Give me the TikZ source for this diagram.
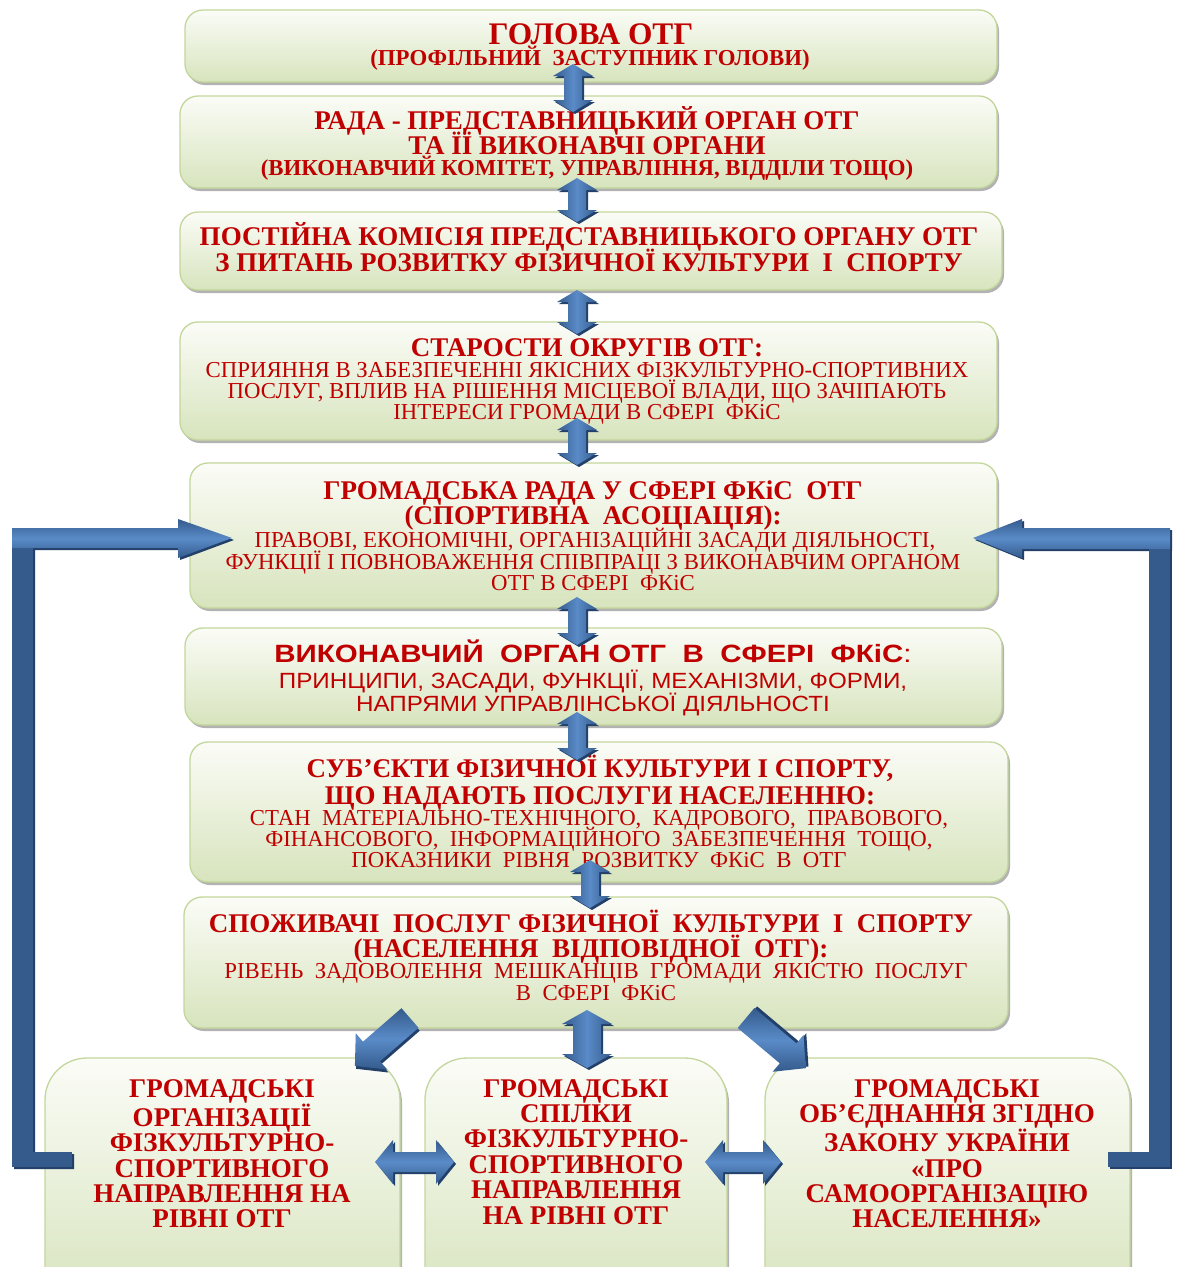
\documentclass[tikz,border=0pt]{standalone}
\usepackage{graphicx}
\usepackage{fontspec}
\setmainfont{Liberation Serif}
\newfontfamily\sansf{Liberation Sans}
\usetikzlibrary{shadows,calc}
\definecolor{tred}{HTML}{C00000}
\definecolor{boxtop}{HTML}{FBFCF7}
\definecolor{boxbot}{HTML}{D7E4BD}
\definecolor{boxline}{HTML}{C3D69B}
\definecolor{alight}{HTML}{5A8BC8}
\definecolor{adark}{HTML}{345B8C}
\definecolor{ashadow}{HTML}{22406A}
\newcommand\fsz[1]{\fontsize{#1}{#1}\selectfont}
\newcommand\vdarr[3]{%
  \fill[ashadow] ($(#1-20,#2+12)+(2,2)$) -- ($(#1,#2)+(2,2)$) -- ($(#1+20,#2+12)+(2,2)$) -- ($(#1+9,#2+12)+(2,2)$) -- ($(#1+9,#3-12)+(2,2)$) -- ($(#1+20,#3-12)+(2,2)$) -- ($(#1,#3)+(2,2)$) -- ($(#1-20,#3-12)+(2,2)$) -- ($(#1-9,#3-12)+(2,2)$) -- ($(#1-9,#2+12)+(2,2)$) -- cycle;
  \path[varrow] (#1-20,#2+12) -- (#1,#2) -- (#1+20,#2+12) -- (#1+9,#2+12) -- (#1+9,#3-12) -- (#1+20,#3-12) -- (#1,#3) -- (#1-20,#3-12) -- (#1-9,#3-12) -- (#1-9,#2+12) -- cycle;}
\newcommand\hdarr[3]{%
  \fill[ashadow] ($(#1+18,#3-22)+(2,2)$) -- ($(#1,#3)+(2,2)$) -- ($(#1+18,#3+22)+(2,2)$) -- ($(#1+18,#3+10)+(2,2)$) -- ($(#2-18,#3+10)+(2,2)$) -- ($(#2-18,#3+22)+(2,2)$) -- ($(#2,#3)+(2,2)$) -- ($(#2-18,#3-22)+(2,2)$) -- ($(#2-18,#3-10)+(2,2)$) -- ($(#1+18,#3-10)+(2,2)$) -- cycle;
  \path[harrow] (#1+18,#3-22) -- (#1,#3) -- (#1+18,#3+22) -- (#1+18,#3+10) -- (#2-18,#3+10) -- (#2-18,#3+22) -- (#2,#3) -- (#2-18,#3-22) -- (#2-18,#3-10) -- (#1+18,#3-10) -- cycle;}
\begin{document}
\begin{tikzpicture}[x=1pt,y=-1pt,
  box/.style={draw=boxline, line width=1.3pt, rounded corners=18pt, top color=boxtop, bottom color=boxbot, inner sep=0pt,
    drop shadow={shadow xshift=2pt, shadow yshift=-3pt, fill=black, opacity=0.3}},
  bbox/.style={box, rounded corners=42pt},
  tl/.style={text=tred, anchor=base, inner sep=0pt},
  tt/.style={tl, font=\bfseries\fsz{27}},
  ts/.style={tl, font=\fsz{22.8}},
  tsb/.style={tl, font=\bfseries\fsz{22.8}},
  tbot/.style={tl, font=\bfseries\fontsize{27}{25.4}\selectfont, align=center, anchor=north},
  varrow/.style={left color=adark, right color=adark, middle color=alight},
  harrow/.style={top color=adark, bottom color=adark, middle color=alight},
  fbar/.style={fill=adark}
]
\useasboundingbox (0,0) rectangle (1176,1267);
\fill[white] (0,0) rectangle (1176,1267);
\clip (0,0) rectangle (1176,1267);

% boxes
\node[box, minimum width=812, minimum height=72] (b1) at (591,46) {};
\node[box, minimum width=817, minimum height=92] (b2) at (588.5,142) {};
\node[box, minimum width=822, minimum height=78] (b3) at (591,251) {};
\node[box, minimum width=817, minimum height=118] (b4) at (588.5,381) {};
\node[box, minimum width=807, minimum height=145] (b5) at (593.5,535.5) {};
\node[box, minimum width=817, minimum height=97] (b6) at (593.5,676.5) {};
\node[box, minimum width=818, minimum height=140] (b7) at (599,812) {};
\node[box, minimum width=824, minimum height=131] (b8) at (596,962.5) {};
\node[bbox, minimum width=355, minimum height=250] (b9) at (222.5,1183) {};
\node[bbox, minimum width=302, minimum height=250] (b10) at (576,1183) {};
\node[bbox, minimum width=365, minimum height=250] (b11) at (947.5,1183) {};

% texts
\node[tl, font=\bfseries\fsz{31.4}] (t1a) at (591,44) {ГОЛОВА ОТГ};
\node[tsb] (t1b) at (590,65.5) {(ПРОФІЛЬНИЙ\ \ ЗАСТУПНИК ГОЛОВИ)};

\node[tt] (t2a) at (587,129) {РАДА - ПРЕДСТАВНИЦЬКИЙ ОРГАН ОТГ};
\node[tt] (t2b) at (587,154) {ТА ЇЇ ВИКОНАВЧІ ОРГАНИ};
\node[tsb] (t2c) at (587,175.5) {(ВИКОНАВЧИЙ КОМІТЕТ, УПРАВЛІННЯ, ВІДДІЛИ ТОЩО)};

\node[tt] (t3a) at (589,245) {ПОСТІЙНА КОМІСІЯ ПРЕДСТАВНИЦЬКОГО ОРГАНУ ОТГ};
\node[tt] (t3b) at (589,271) {З ПИТАНЬ РОЗВИТКУ ФІЗИЧНОЇ КУЛЬТУРИ\ \ І\ \ СПОРТУ};

\node[tt] (t4a) at (587,356) {СТАРОСТИ ОКРУГІВ ОТГ:};
\node[ts] (t4b) at (587,377.5) {СПРИЯННЯ В ЗАБЕЗПЕЧЕННІ ЯКІСНИХ ФІЗКУЛЬТУРНО-СПОРТИВНИХ};
\node[ts] (t4c) at (587,398.5) {ПОСЛУГ, ВПЛИВ НА РІШЕННЯ МІСЦЕВОЇ ВЛАДИ, ЩО ЗАЧІПАЮТЬ};
\node[ts] (t4d) at (587,419.5) {ІНТЕРЕСИ ГРОМАДИ В СФЕРІ\ \ ФКіС};

\node[tt] (t5a) at (593,499) {ГРОМАДСЬКА РАДА У СФЕРІ ФКіС\ \ ОТГ};
\node[tt] (t5b) at (593,524) {(СПОРТИВНА\ \ АСОЦІАЦІЯ):};
\node[ts] (t5c) at (595,547.5) {ПРАВОВІ, ЕКОНОМІЧНІ, ОРГАНІЗАЦІЙНІ ЗАСАДИ ДІЯЛЬНОСТІ,};
\node[ts] (t5d) at (593,569.5) {ФУНКЦІЇ І ПОВНОВАЖЕННЯ СПІВПРАЦІ З ВИКОНАВЧИМ ОРГАНОМ};
\node[ts] (t5e) at (593,590.5) {ОТГ В СФЕРІ\ \ ФКіС};

\node[tl] (t6a) at (593,662) {\scalebox{1.18}[1]{\sansf\bfseries\fsz{25}ВИКОНАВЧИЙ\ \ ОРГАН ОТГ\ \ В\ \ СФЕРІ\ \ ФКіС\mdseries:}};
\node[tl] (t6b) at (593,688) {\scalebox{1.1}[1]{\sansf\fsz{22}ПРИНЦИПИ,\ ЗАСАДИ,\ ФУНКЦІЇ,\ МЕХАНІЗМИ,\ ФОРМИ,}};
\node[tl] (t6c) at (593,711) {\scalebox{1.1}[1]{\sansf\fsz{22}НАПРЯМИ УПРАВЛІНСЬКОЇ ДІЯЛЬНОСТІ}};

\node[tt] (t7a) at (600,777) {СУБ’ЄКТИ ФІЗИЧНОЇ КУЛЬТУРИ І СПОРТУ,};
\node[tt] (t7b) at (600,804) {ЩО НАДАЮТЬ ПОСЛУГИ НАСЕЛЕННЮ:};
\node[ts] (t7c) at (599,825.5) {СТАН\ \ МАТЕРІАЛЬНО-ТЕХНІЧНОГО,\ \ КАДРОВОГО,\ \ ПРАВОВОГО,};
\node[ts] (t7d) at (599,846.5) {ФІНАНСОВОГО,\ \ ІНФОРМАЦІЙНОГО\ \ ЗАБЕЗПЕЧЕННЯ\ \ ТОЩО,};
\node[ts] (t7e) at (599,867.5) {ПОКАЗНИКИ\ \ РІВНЯ\ \ РОЗВИТКУ\ \ ФКіС\ \ В\ \ ОТГ};

\node[tt] (t8a) at (591,932) {СПОЖИВАЧІ\ \ ПОСЛУГ ФІЗИЧНОЇ\ \ КУЛЬТУРИ\ \ І\ \ СПОРТУ};
\node[tt] (t8b) at (591,957) {(НАСЕЛЕННЯ\ \ ВІДПОВІДНОЇ\ \ ОТГ):};
\node[ts] (t8c) at (596,978.5) {РІВЕНЬ\ \ ЗАДОВОЛЕННЯ\ \ МЕШКАНЦІВ\ \ ГРОМАДИ\ \ ЯКІСТЮ\ \ ПОСЛУГ};
\node[ts] (t8d) at (596,1000.5) {В\ \ СФЕРІ\ \ ФКіС};

\node[tbot] (t9) at (222,1079)
  {ГРОМАДСЬКІ\\ОРГАНІЗАЦІЇ\\ФІЗКУЛЬТУРНО-\\СПОРТИВНОГО\\НАПРАВЛЕННЯ НА\\РІВНІ ОТГ};
\node[tbot] (t10) at (576,1079)
  {ГРОМАДСЬКІ\\СПІЛКИ\\ФІЗКУЛЬТУРНО-\\СПОРТИВНОГО\\НАПРАВЛЕННЯ\\НА РІВНІ ОТГ};
\node[tbot] (t11) at (947,1079)
  {ГРОМАДСЬКІ\\ОБ’ЄДНАННЯ ЗГІДНО\\ЗАКОНУ УКРАЇНИ\\«ПРО\\САМООРГАНІЗАЦІЮ\\НАСЕЛЕННЯ»};

% vertical double arrows between boxes
\vdarr{573}{64}{112}
\vdarr{577}{178}{222}
\vdarr{577}{290}{334}
\vdarr{577}{418}{465}
\vdarr{577}{597}{645}
\vdarr{577}{712}{760}
\vdarr{590}{860}{908}
% bottom middle (larger)
\fill[ashadow] (562+2,1024+2) -- (587+2,1010+2) -- (612+2,1024+2) -- (601+2,1024+2) -- (601+2,1054+2) -- (612+2,1054+2) -- (587+2,1068+2) -- (562+2,1054+2) -- (573+2,1054+2) -- (573+2,1024+2) -- cycle;
\path[varrow] (562,1024) -- (587,1010) -- (612,1024) -- (601,1024) -- (601,1054) -- (612,1054) -- (587,1068) -- (562,1054) -- (573,1054) -- (573,1024) -- cycle;

% horizontal double arrows between bottom boxes
\hdarr{375}{454}{1162}
\hdarr{705}{781}{1162}

% diagonal single arrows
\begin{scope}[shift={(410,1018)}, rotate=221]
  \fill[ashadow, shift={(1,-3)}] (0,-13) -- (51,-13) -- (51,-24) -- (73,0) -- (51,24) -- (51,13) -- (0,13) -- cycle;
  \path[top color=adark, bottom color=adark, middle color=alight] (0,-13) -- (51,-13) -- (51,-24) -- (73,0) -- (51,24) -- (51,13) -- (0,13) -- cycle;
\end{scope}
\begin{scope}[shift={(746,1018)}, rotate=-40]
  \fill[ashadow, shift={(1,-3)}] (0,-13) -- (55,-13) -- (55,-24) -- (78,0) -- (55,24) -- (55,13) -- (0,13) -- cycle;
  \path[top color=adark, bottom color=adark, middle color=alight] (0,-13) -- (55,-13) -- (55,-24) -- (78,0) -- (55,24) -- (55,13) -- (0,13) -- cycle;
\end{scope}

% feedback arrows
\coordinate (ltip) at (232,538);
\coordinate (rtip) at (973,538);
% left
\fill[ashadow] (14,530) -- (180,530) -- (180,521) -- (234,540) -- (180,560) -- (180,550) -- (35,550) -- (35,1154) -- (74,1154) -- (74,1169) -- (14,1169) -- cycle;
\fill[fbar] (12,528) rectangle (33,1167);
\fill[fbar] (12,1152) rectangle (72,1167);
\path[harrow] (12,528) -- (178,528) -- (178,519) -- (ltip) -- (178,558) -- (178,548) -- (12,548) -- cycle;
% right
\fill[ashadow] (1172,530) -- (1024,530) -- (1024,521) -- (975,540) -- (1024,560) -- (1024,551) -- (1172,551) -- cycle;
\fill[ashadow] (1151,549) rectangle (1172,1169);
\fill[ashadow] (1110,1154) rectangle (1172,1169);
\fill[fbar] (1149,528) rectangle (1170,1167);
\fill[fbar] (1108,1152) rectangle (1170,1167);
\path[harrow] (1170,528) -- (1022,528) -- (1022,519) -- (rtip) -- (1022,558) -- (1022,549) -- (1170,549) -- cycle;
\end{tikzpicture}
\end{document}
